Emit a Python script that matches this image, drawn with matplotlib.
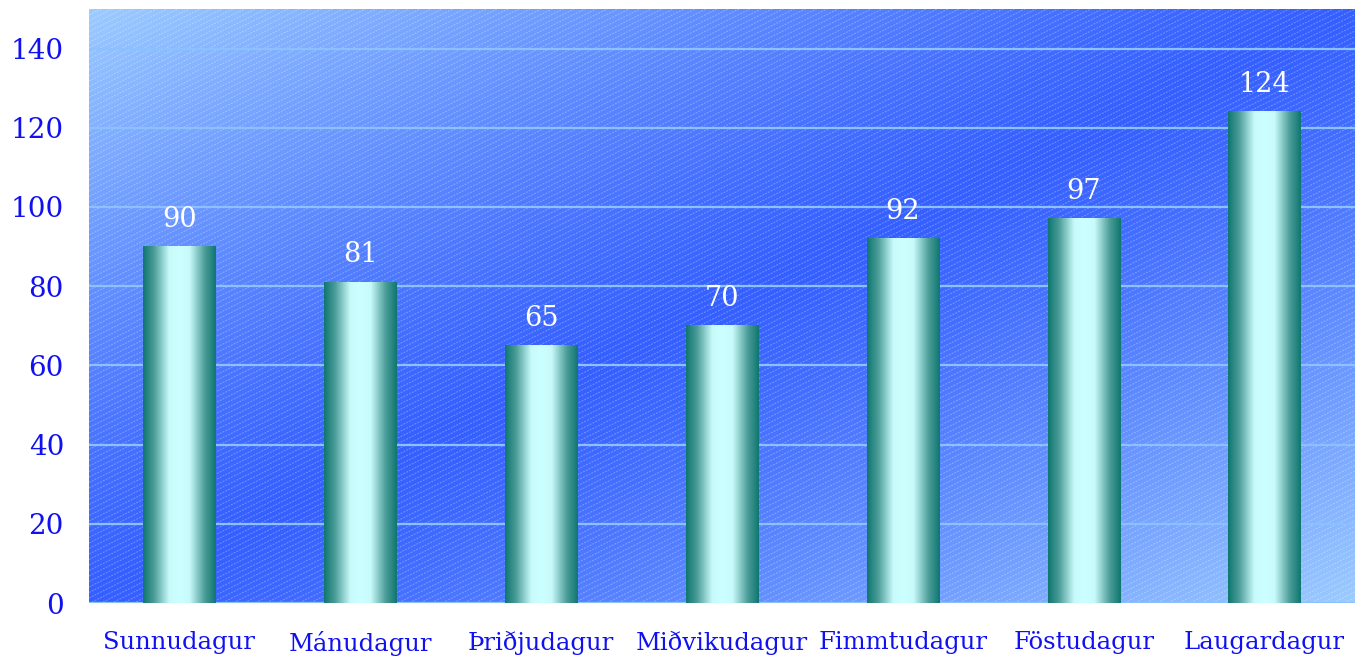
import matplotlib

matplotlib.use("Agg")
import matplotlib.pyplot as plt
import numpy as np
from matplotlib.collections import LineCollection
from matplotlib.colors import LinearSegmentedColormap

days = ["Sunnudagur", "Mánudagur", "Þriðjudagur", "Miðvikudagur",
        "Fimmtudagur", "Föstudagur", "Laugardagur"]
counts = [90, 81, 65, 70, 92, 97, 124]
y_ticks = [0, 20, 40, 60, 80, 100, 120, 140]

plt.rcParams["font.family"] = ["DejaVu Serif"]

fig = plt.figure(figsize=(13.56, 6.56), dpi=100)
ax_w, ax_h = 1266, 594
ax = fig.add_axes([89 / 1356, 53 / 656, ax_w / 1356, ax_h / 656])

# background: reflected diagonal gradient, light corners, dark band
u = np.linspace(0, 1, 400)
w = np.linspace(0, 1, 200)
U, W = np.meshgrid(u, w)
d = np.abs(U + W - 1.0) ** 1.25
bg_cmap = LinearSegmentedColormap.from_list("bg", ["#3560ff", "#9ccbff"])
ax.imshow(d, cmap=bg_cmap, vmin=0, vmax=1, extent=(0, 1, 0, 1), origin="upper",
          transform=ax.transAxes, aspect="auto", zorder=0, interpolation="bilinear")

# fine dotted diagonal texture
segs = []
for c in np.arange(-0.5 * ax_w, ax_h, 5.5):
    segs.append([(0, c / ax_h), (1, (c + 0.5 * ax_w) / ax_h)])
ax.add_collection(LineCollection(segs, colors="white", linewidths=0.7, alpha=0.3,
                                 linestyles=[(0, (2, 1.2))], transform=ax.transAxes,
                                 zorder=0.5))

x = np.arange(len(days))
bars = ax.bar(x, counts, width=0.4, color="none", zorder=3)

bar_cmap = LinearSegmentedColormap.from_list(
    "bar", [(0, "#0f7670"), (0.15, "#4b9c98"), (0.36, "#c8fafa"),
            (0.5, "#ccffff"), (0.64, "#c8fafa"), (0.85, "#4b9c98"), (1, "#0f7670")])
grad = np.linspace(0, 1, 256).reshape(1, -1)
for b, v in zip(bars, counts):
    x0, x1 = b.get_x(), b.get_x() + b.get_width()
    ax.imshow(grad, cmap=bar_cmap, extent=(x0, x1, 0, v), aspect="auto",
              zorder=3, interpolation="bilinear")
    ax.text(b.get_x() + b.get_width() / 2, v + 5, str(v), ha="center", va="baseline",
            color="white", fontsize=19.5, zorder=4)

ax.set_xlim(-0.5, len(days) - 0.5)
ax.set_ylim(0, 150)
ax.set_yticks(y_ticks)
ax.set_xticks(x)
ax.set_xticklabels(days)
ax.yaxis.grid(True, color="#8cc0ff", linewidth=1.6, zorder=1)
ax.set_axisbelow(True)
for s in ax.spines.values():
    s.set_visible(False)
ax.axhline(0, color="#8cc0ff", linewidth=2, zorder=2)
ax.tick_params(axis="y", length=0, pad=18, labelsize=20, labelcolor="#1010f0")
ax.tick_params(axis="x", length=0, pad=20, labelsize=17.5, labelcolor="#1010f0")

fig.savefig("out.png", dpi=100)
